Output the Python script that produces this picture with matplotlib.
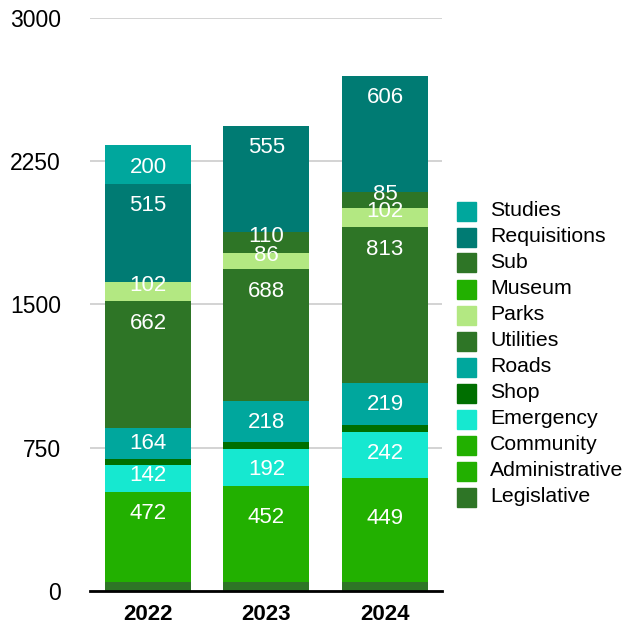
import matplotlib
matplotlib.use("Agg")
import matplotlib.pyplot as plt
import matplotlib.transforms as mtransforms
import numpy as np

plt.rcParams["font.family"] = ["Liberation Sans", "DejaVu Sans"]

years = ["2022", "2023", "2024"]
# stacking order, bottom to top
series = ["Legislative", "Community", "Administrative", "Emergency", "Shop",
          "Roads", "Utilities", "Parks", "Museum", "Sub", "Requisitions", "Studies"]
legislative = [47, 47, 47]
community = [472, 452, 449]
administrative = [0, 50, 96]
emergency = [142, 192, 242]
shop = [28, 37, 37]
roads = [164, 218, 219]
utilities = [662, 688, 813]
parks = [102, 86, 102]
museum = [0, 0, 0]
sub = [0, 110, 85]
requisitions = [515, 555, 606]
studies = [200, 0, 0]

values = [legislative, community, administrative, emergency, shop, roads,
          utilities, parks, museum, sub, requisitions, studies]
colors = ["#2e7526", "#22b000", "#22b000", "#16e8d0", "#006f00", "#00a79d",
          "#2e7526", "#b3e882", "#22b000", "#2e7526", "#007b73", "#00a79d"]
labeled = ["Community", "Emergency", "Roads", "Utilities", "Parks", "Sub",
           "Requisitions", "Studies"]

legend_order = ["Studies", "Requisitions", "Sub", "Museum", "Parks", "Utilities",
                "Roads", "Shop", "Emergency", "Community", "Administrative", "Legislative"]

W, H = 626, 627
fig = plt.figure(figsize=(W / 100, H / 100), dpi=100)
ax = fig.add_axes([90 / W, 1 - 591 / H, (442 - 90) / W, (591 - 17.7) / H])

shift = mtransforms.ScaledTranslation(0, -2 / 100, fig.dpi_scale_trans)
x = np.arange(len(years))
bottom = np.zeros(len(years))
for name, vals, col in zip(series, values, colors):
    vals = np.array(vals, dtype=float)
    ax.bar(x, vals, width=0.726, bottom=bottom, color=col, linewidth=0, zorder=2)
    if name in labeled:
        for i, v in enumerate(vals):
            if v > 0:
                top = bottom[i] + v
                off = min(105, max(v - 95, 5))
                ax.text(x[i], top - off, f"{int(v)}", ha="center", va="center",
                        color="white", fontsize=16, zorder=5,
                        transform=ax.transData + shift)
    bottom += vals

ax.set_ylim(0, 3000)
ax.set_xlim(-0.489, 2.481)
ax.set_yticks([0, 750, 1500, 2250, 3000])
ax.set_xticks(x)
ax.set_xticklabels(years, fontsize=16, fontweight="bold")
ax.tick_params(axis="y", length=0, pad=21, labelsize=16.5)
ax.tick_params(axis="x", length=0, pad=9)
ax.grid(axis="y", color="#cccccc", linewidth=1.2, zorder=0)
ax.set_axisbelow(True)
for s in ["top", "right", "left"]:
    ax.spines[s].set_visible(False)
ax.spines["bottom"].set_linewidth(2)
ax.spines["bottom"].set_color("black")
ax.spines["bottom"].set_zorder(6)

# legend (top to bottom)
y0 = 211
for k, nm in enumerate(legend_order):
    c = colors[series.index(nm)]
    yc = y0 + k * 26
    fig.patches.append(plt.Rectangle((457 / W, 1 - (yc + 9.5) / H), 19 / W, 19 / H,
                                     transform=fig.transFigure, color=c, figure=fig))
    fig.text(490 / W, 1 - yc / H, nm, ha="left", va="center", fontsize=15.3)

fig.savefig("out.png", dpi=100)
